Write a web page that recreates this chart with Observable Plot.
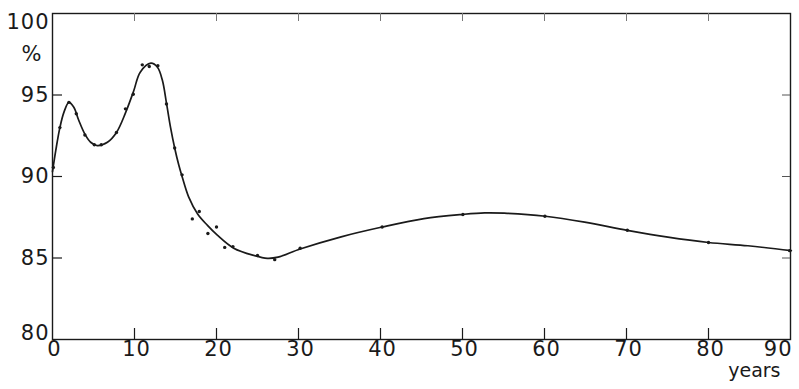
<!DOCTYPE html>
<html>
<head>
<meta charset="utf-8">
<script src="https://cdn.jsdelivr.net/npm/d3@7"></script>
<script src="https://cdn.jsdelivr.net/npm/@observablehq/plot@0.6"></script>
<style>
  html, body { margin: 0; padding: 0; background: #fff; }
  #chart svg { display: block; }
  #chart svg .num text, #chart svg text.num { letter-spacing: 1px; }
</style>
</head>
<body>
<div id="chart"></div>
<script>
// Observed points (age in years, percent)
const obsYears   = [0.1, 0.9, 2.0, 2.9, 3.95, 5.1, 5.95, 7.8, 8.9, 9.85, 10.95, 11.8, 12.85, 13.9, 14.9, 15.8, 17.05, 17.9, 18.95, 20.0, 21.0, 22.0, 25.0, 27.1, 30.2, 40.2, 50.05, 60.05, 70.1, 80.0, 89.9];
const obsPercent = [90.55, 93.0, 94.55, 93.85, 92.55, 91.95, 91.95, 92.7, 94.15, 95.05, 96.85, 96.75, 96.8, 94.45, 91.75, 90.1, 87.4, 87.85, 86.5, 86.9, 85.65, 85.7, 85.15, 84.9, 85.6, 86.9, 87.67, 87.56, 86.7, 85.95, 85.45];

// Fitted smooth curve
const curveYears   = [0, 0.4, 0.9, 1.4, 2.0, 2.6, 3.2, 3.95, 4.65, 5.45, 6.7, 7.8, 8.9, 9.9, 10.7, 12.0, 12.8, 13.4, 13.9, 14.4, 14.9, 15.4, 15.8, 16.6, 17.7, 18.9, 20.1, 22.1, 24.6, 26.2, 27.5, 30.2, 35.2, 40.2, 45.3, 50.1, 52.7, 55.1, 60.1, 64.9, 70.1, 75.05, 80.0, 84.8, 90.1];
const curvePercent = [90.3, 91.6, 93.0, 93.95, 94.55, 94.25, 93.45, 92.6, 92.1, 91.9, 92.1, 92.7, 93.9, 95.25, 96.4, 96.95, 96.7, 95.9, 94.5, 93.0, 91.75, 90.7, 90.0, 88.75, 87.7, 87.0, 86.4, 85.6, 85.15, 84.98, 85.05, 85.55, 86.3, 86.9, 87.42, 87.68, 87.77, 87.75, 87.56, 87.2, 86.7, 86.28, 85.95, 85.75, 85.45];

const xTicks = [0, 10, 20, 30, 40, 50, 60, 70, 80, 90];
const yTicks = [80, 85, 90, 95, 100];
const xAxisTitle = "years";
const yAxisTitle = "%";

const obs = obsYears.map((x, i) => ({x, y: obsPercent[i]}));
const curve = curveYears.map((x, i) => ({x, y: curvePercent[i]}));

const W = 799, H = 389;
const mL = 52, mR = 9, mT = 13, mB = 50;
const pW = W - mL - mR, pH = H - mT - mB;
const font = "DejaVu Sans, sans-serif";
const ink = "#1a1a1a";

const xInner = xTicks.slice(1, -1);
const yInner = yTicks.slice(1, -1);
const num = {fontSize: 21, fill: ink, className: "num"};

const chart = Plot.plot({
  width: W, height: H,
  marginLeft: mL, marginRight: mR, marginTop: mT, marginBottom: mB,
  style: {fontFamily: font, background: "#fff", color: ink},
  x: {domain: [0, 90], axis: null},
  y: {domain: [80, 100], axis: null},
  marks: [
    Plot.frame({stroke: ink, strokeWidth: 1.4}),
    // inward ticks: left
    Plot.tickY(yInner, {y: d => d, stroke: ink, strokeWidth: 1.2, insetRight: pW - 10}),
    // right
    Plot.tickY(yInner, {y: d => d, stroke: "#555", strokeWidth: 1, insetLeft: pW - 8}),
    // bottom
    Plot.tickX(xInner, {x: d => d, stroke: ink, strokeWidth: 1.2, insetTop: pH - 11}),
    // top
    Plot.tickX(xInner, {x: d => d, stroke: "#777", strokeWidth: 1, insetBottom: pH - 8}),
    // fitted curve
    Plot.line(curve, {x: "x", y: "y", curve: "catmull-rom", stroke: ink, strokeWidth: 1.7}),
    // observed points
    Plot.dot(obs, {x: "x", y: "y", r: 1.7, fill: ink, stroke: null}),
    // x tick labels
    Plot.text(xTicks.slice(0, -1), {x: d => d, text: d => String(d), frameAnchor: "bottom", dy: 16, dx: 2, ...num}),
    Plot.text(xTicks.slice(-1), {x: d => d, text: d => String(d), frameAnchor: "bottom", dy: 16, textAnchor: "end", dx: 2, ...num}),
    // y tick labels
    Plot.text(yInner, {y: d => d, text: d => String(d), frameAnchor: "left", textAnchor: "end", dx: -3, ...num}),
    Plot.text(yTicks.slice(-1), {y: d => d, text: d => String(d), frameAnchor: "left", textAnchor: "end", dx: -3, dy: 9, ...num}),
    Plot.text(yTicks.slice(0, 1), {y: d => d, text: d => String(d), frameAnchor: "left", textAnchor: "end", dx: -3, dy: -6, ...num}),
    // axis titles
    Plot.text([yAxisTitle], {text: d => d, frameAnchor: "top-left", textAnchor: "middle", dx: -21, dy: 33, fontSize: 21, fill: ink}),
    Plot.text([xAxisTitle], {text: d => d, frameAnchor: "bottom-right", textAnchor: "end", dx: -10, dy: 37, fontSize: 19, fill: ink})
  ]
});
document.getElementById("chart").appendChild(chart);
</script>
</body>
</html>
